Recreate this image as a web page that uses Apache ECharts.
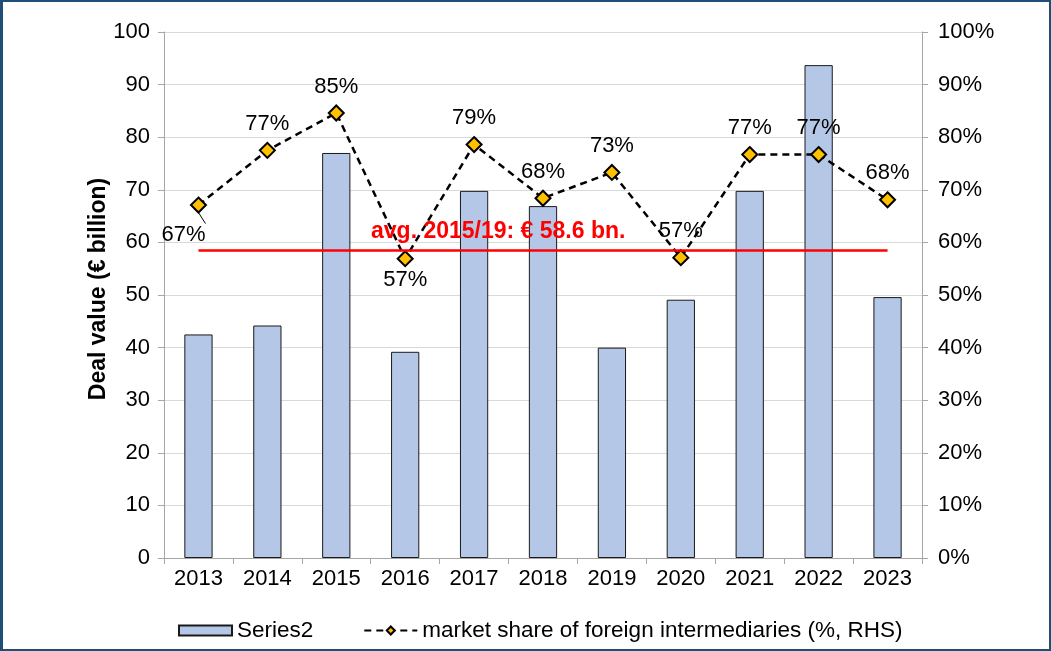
<!DOCTYPE html>
<html>
<head>
<meta charset="utf-8">
<script src="https://cdn.jsdelivr.net/npm/echarts@6/dist/echarts.min.js"></script>
<style>
html,body{margin:0;padding:0;background:#fff;}
#frame{position:absolute;left:0;top:0;width:1051px;height:651px;box-sizing:border-box;border:2px solid #1f4e79;border-left-width:3px;}
#chart{position:absolute;left:0;top:0;width:1051px;height:651px;}
</style>
</head>
<body>
<div id="chart"></div>
<div id="frame"></div>
<script>
const categories = ['2013','2014','2015','2016','2017','2018','2019','2020','2021','2022','2023'];
const dealValues = [42.5, 44.2, 77.0, 39.2, 69.8, 66.9, 40.0, 49.1, 69.8, 93.7, 49.6];
const marketShare = [67.1, 77.5, 84.6, 56.9, 78.6, 68.4, 73.3, 57.1, 76.7, 76.7, 68.1];
const shareLabels = ['67%','77%','85%','57%','79%','68%','73%','57%','77%','77%','68%'];
const avgValue = 58.6;
const avgText = 'avg. 2015/19: € 58.6 bn.';
const leftTicks = [0,10,20,30,40,50,60,70,80,90,100];

const FONT = 'Liberation Sans';
const FS = 22;
const chart = echarts.init(document.getElementById('chart'), null, {renderer:'canvas'});

const lineData = marketShare.map((v, i) => {
  const d = {value: v, label: {formatter: shareLabels[i]}};
  if (i === 0) {
    d.label = {formatter: shareLabels[i], position: 'bottom', offset: [-15, 3]};
    d.labelLine = {show: true, lineStyle: {color: '#000', width: 1}};
  }
  if (i === 3) {
    d.label = {formatter: shareLabels[i], position: 'bottom', distance: 2};
  }
  return d;
});

chart.setOption({
  animation: false,
  textStyle: {fontFamily: FONT},
  grid: {left: 164, right: 129, top: 32, bottom: 93},
  legend: {
    left: 173, top: 614,
    itemWidth: 53, itemHeight: 10, itemGap: 50,
    textStyle: {fontFamily: FONT, fontSize: 22.5, color: '#000'},
    data: [
      {name: 'Series2', icon: 'rect'},
      {name: 'market share of foreign intermediaries (%, RHS)'}
    ]
  },
  xAxis: {
    type: 'category',
    data: categories,
    axisLine: {lineStyle: {color: '#a6a6a6', width: 1}},
    axisTick: {show: true, length: 6, lineStyle: {color: '#a6a6a6'}},
    axisLabel: {fontFamily: FONT, fontSize: FS, color: '#000', margin: 10}
  },
  yAxis: [
    {
      type: 'value', min: 0, max: 100, interval: 10,
      name: 'Deal value (€ billion)',
      nameLocation: 'middle', nameGap: 54, nameRotate: 90, nameMoveOverlap: false,
      nameTextStyle: {fontFamily: FONT, fontSize: 23, fontWeight: 'bold', color: '#000', padding: [0, 0, 0, 12]},
      axisLine: {show: true, lineStyle: {color: '#a6a6a6'}},
      axisTick: {show: true, length: 6, lineStyle: {color: '#a6a6a6'}},
      axisLabel: {fontFamily: FONT, fontSize: FS, color: '#000', margin: 14,
        formatter: v => leftTicks.includes(v) ? String(v) : ''},
      splitLine: {show: true, lineStyle: {color: '#d9d9d9', width: 1}}
    },
    {
      type: 'value', min: 0, max: 100, interval: 10, position: 'right',
      axisLine: {show: true, lineStyle: {color: '#a6a6a6'}},
      axisTick: {show: true, length: 6, lineStyle: {color: '#a6a6a6'}},
      axisLabel: {fontFamily: FONT, fontSize: FS, color: '#000', margin: 16,
        formatter: v => v + '%'},
      splitLine: {show: false}
    }
  ],
  series: [
    {
      name: 'Series2',
      type: 'bar',
      data: dealValues,
      barWidth: '41%',
      itemStyle: {color: '#b4c7e7', borderColor: '#1a1a1a', borderWidth: 1},
      markLine: {
        silent: true,
        symbol: ['none','none'],
        lineStyle: {color: '#ff0000', width: 2.5, type: 'solid'},
        label: {show: false},
        data: [[{coord: [categories[0], avgValue]}, {coord: [categories[categories.length-1], avgValue]}]]
      },
      z: 2
    },
    {
      name: 'market share of foreign intermediaries (%, RHS)',
      type: 'line',
      yAxisIndex: 1,
      data: lineData,
      symbol: 'diamond',
      symbolSize: 15,
      lineStyle: {color: '#000', width: 2.5, type: [7, 5]},
      itemStyle: {color: '#ffc000', borderColor: '#000', borderWidth: 2},
      label: {show: true, position: 'top', distance: 7, fontFamily: FONT, fontSize: FS, color: '#000'},
      z: 4
    }
  ],
  graphic: [{
    type: 'text', left: 371, top: 220, z: 10,
    style: {text: avgText, fill: '#ff0000', font: 'bold 23px "Liberation Sans"'}
  }]
});
</script>
</body>
</html>
